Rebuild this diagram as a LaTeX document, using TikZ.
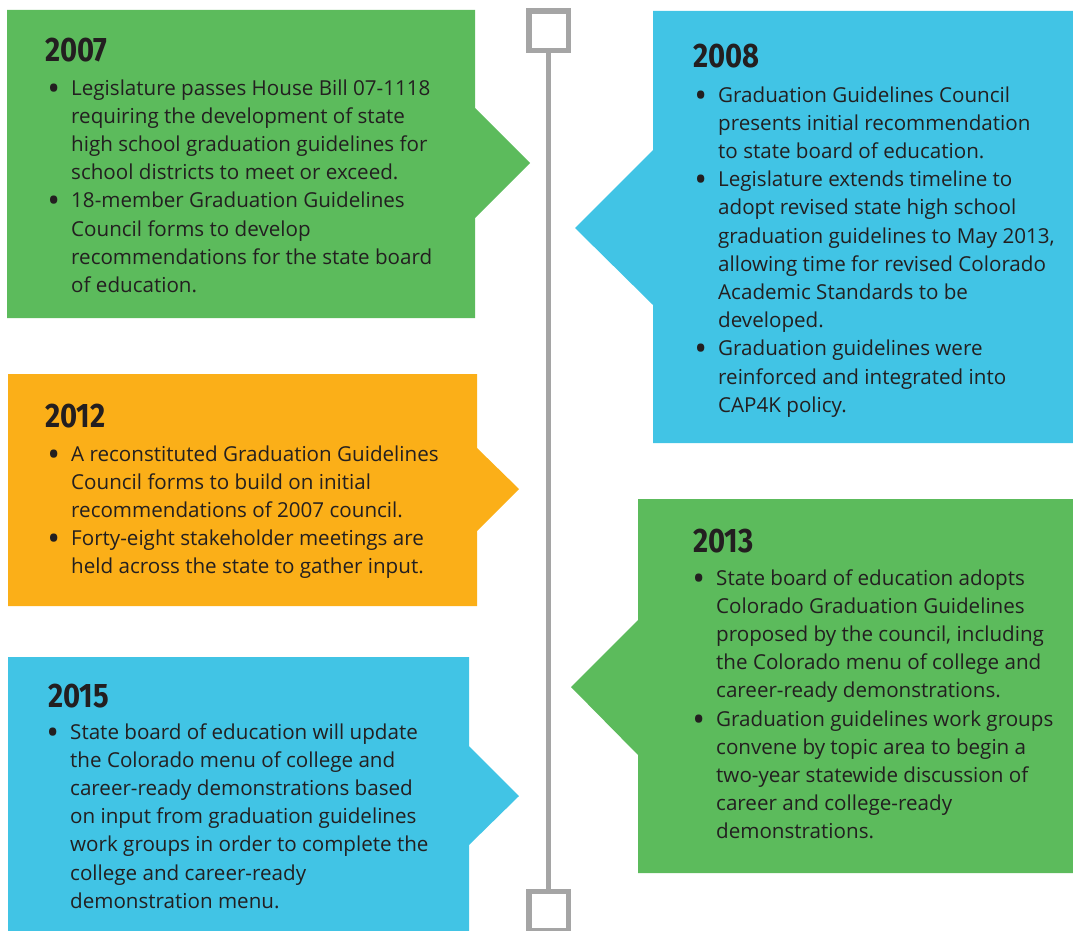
\documentclass[tikz,border=0pt]{standalone}
\usepackage{fontspec}
\setmainfont{Open Sans}
\newfontfamily\yearfont[FakeStretch=0.86]{Fira Sans}
\usetikzlibrary{positioning}

\definecolor{leafgreen}{RGB}{92,187,92}
\definecolor{skyblue}{RGB}{65,196,229}
\definecolor{amber}{RGB}{251,175,24}
\definecolor{railgray}{RGB}{165,165,165}
\definecolor{ink}{RGB}{35,31,32}

\newcommand\itm{\makebox[0pt][r]{\raisebox{-5pt}{\fontsize{34}{28}\selectfont\textbullet}\hspace{11pt}}}

\tikzset{
  year/.style={anchor=base west, inner sep=0pt, text=ink,
    font=\yearfont\bfseries\fontsize{34}{34}\selectfont},
  notes/.style={anchor=base west, inner sep=0pt, align=left, text=ink,
    font=\fontsize{20.6}{28.2}\selectfont},
  tick/.style={draw=railgray, line width=5.5pt, fill=white,
    minimum size=39.5pt, inner sep=0pt},
  rail/.style={draw=railgray, line width=5pt}
}

\begin{document}
\begin{tikzpicture}[x=1pt,y=-1pt]
  \useasboundingbox (0,0) rectangle (1073,931);

  \fill[leafgreen] (7,10) -- (475,10) -- (475,108) -- (530,163) -- (475,218)
    -- (475,318) -- (7,318) -- cycle;
  \fill[skyblue] (653,11) -- (1073,11) -- (1073,443) -- (653,443) -- (653,305)
    -- (575,228) -- (653,150) -- cycle;
  \fill[amber] (8,374) -- (477,374) -- (477,448) -- (519,489) -- (477,531)
    -- (477,606) -- (8,606) -- cycle;
  \fill[leafgreen] (638,499) -- (1073,499) -- (1073,873) -- (638,873) -- (638,755)
    -- (571,687) -- (638,620) -- cycle;
  \fill[skyblue] (8,657) -- (469,657) -- (469,746) -- (519,796) -- (469,845)
    -- (469,931) -- (8,931) -- cycle;

  \node[tick] (start) at (548.5,31) {};
  \node[tick] (end) at (548.5,911) {};
  \draw[rail] (start) -- (end);

  % notes are anchored at the baseline of their last line
  \node[year] (y2007) at (45,62) {2007};
  \node[notes] (n2007) at (71,292.4) {\itm Legislature passes House Bill 07-1118\\
    requiring the development of state\\
    high school graduation guidelines for\\
    school districts to meet or exceed.\\
    \itm 18-member Graduation Guidelines\\
    Council forms to develop\\
    recommendations for the state board\\
    of education.};

  \node[year] (y2008) at (693,68) {2008};
  \node[notes] (n2008) at (718,412.2) {\itm Graduation Guidelines Council\\
    presents initial recommendation\\
    to state board of education.\\
    \itm Legislature extends timeline to\\
    adopt revised state high school\\
    graduation guidelines to May 2013,\\
    allowing time for revised Colorado\\
    Academic Standards to be\\
    developed.\\
    \itm Graduation guidelines were\\
    reinforced and integrated into\\
    CAP4K policy.};

  \node[year] (y2012) at (45,427) {2012};
  \node[notes] (n2012) at (71,573.8) {\itm A reconstituted Graduation Guidelines\\
    Council forms to build on initial\\
    recommendations of 2007 council.\\
    \itm Forty-eight stakeholder meetings are\\
    held across the state to gather input.};

  \node[year] (y2013) at (693,552) {2013};
  \node[notes] (n2013) at (716,838.8) {\itm State board of education adopts\\
    Colorado Graduation Guidelines\\
    proposed by the council, including\\
    the Colorado menu of college and\\
    career-ready demonstrations.\\
    \itm Graduation guidelines work groups\\
    convene by topic area to begin a\\
    two-year statewide discussion of\\
    career and college-ready\\
    demonstrations.};

  \node[year] (y2015) at (48,707) {2015};
  \node[notes] (n2015) at (70,908.2) {\itm State board of education will update\\
    the Colorado menu of college and\\
    career-ready demonstrations based\\
    on input from graduation guidelines\\
    work groups in order to complete the\\
    college and career-ready\\
    demonstration menu.};
\end{tikzpicture}
\end{document}
